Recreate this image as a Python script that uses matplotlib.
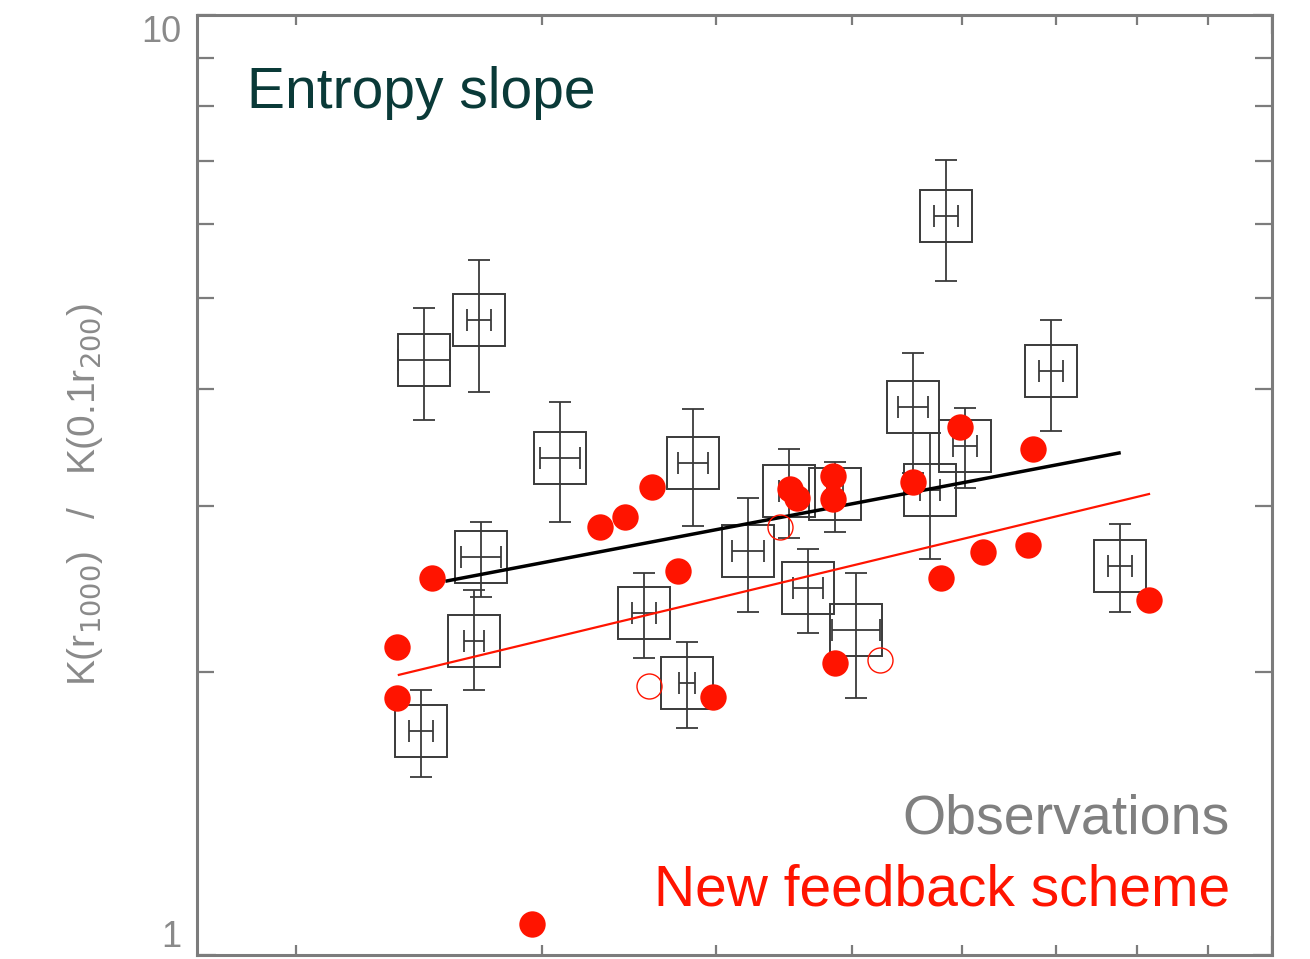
import matplotlib
matplotlib.use('Agg')
import matplotlib.pyplot as plt
import numpy as np

# observations (open squares with x/y error bars)
obs_x = [2.471, 2.706, 3.092, 2.715, 2.684, 2.459, 3.552, 3.814, 3.850, 4.215,
         4.510, 4.865, 4.653, 5.036, 5.842, 5.533, 5.691, 6.029, 6.946, 7.783]
obs_xlo = [2.368, 2.652, 2.991, 2.627, 2.639, 2.411, 3.482, 3.763, 3.757, 4.106,
           4.436, 4.802, 4.539, 4.841, 5.728, 5.398, 5.597, 5.910, 6.810, 7.630]
obs_xhi = [2.579, 2.760, 3.196, 2.805, 2.728, 2.508, 3.622, 3.864, 3.947, 4.328,
           4.585, 4.929, 4.770, 5.240, 5.958, 5.672, 5.786, 6.148, 7.085, 7.939]
obs_y = [4.295, 4.738, 3.379, 2.651, 2.158, 1.731, 2.311, 1.947, 3.338, 2.691,
         3.116, 3.093, 2.458, 2.217, 6.112, 3.828, 3.124, 3.479, 4.181, 2.593]
obs_ylo = [3.709, 3.972, 2.888, 2.404, 1.914, 1.547, 2.070, 1.744, 2.860, 2.317,
           2.777, 2.818, 2.201, 1.877, 5.212, 3.257, 2.638, 3.139, 3.610, 2.317]
obs_yhi = [4.879, 5.488, 3.876, 2.888, 2.445, 1.914, 2.550, 2.153, 3.810, 3.063,
           3.454, 3.345, 2.704, 2.550, 7.012, 4.369, 3.592, 3.819, 4.738, 2.874]

# simulated clusters, new feedback scheme (filled)
sim_x = [2.504, 2.364, 2.364, 2.953, 3.303, 3.442, 3.599, 3.757, 3.980, 4.517, 4.570,
         4.850, 4.850, 4.865, 5.533, 5.794, 5.979, 6.209, 6.687, 6.743, 8.165]
sim_y = [2.518, 2.126, 1.877, 1.079, 2.853, 2.924, 3.147, 2.562, 1.882, 3.131, 3.063,
         3.233, 3.055, 2.045, 3.185, 2.518, 3.646, 2.684, 2.731, 3.454, 2.386]

# simulated clusters (open)
sim_open_x = [3.581, 4.443, 5.240]
sim_open_y = [1.933, 2.853, 2.060]

# fit lines (end points)
fit_obs_x = [2.567, 7.771]
fit_obs_y = [2.500, 3.420]
fit_sim_x = [2.371, 8.165]
fit_sim_y = [1.986, 3.093]

grey = '#7c7c7c'
red = '#ff1400'

fig = plt.figure(figsize=(13.1, 9.59), dpi=100)
ax = fig.add_axes([0.1504, 0.0042, 0.8206, 0.9802])
ax.set_xscale('log')
ax.set_yscale('log')
ax.set_xlim(1.7, 10)
ax.set_ylim(1, 10)

obs_x = np.array(obs_x); obs_y = np.array(obs_y)
xerr = [obs_x - np.array(obs_xlo), np.array(obs_xhi) - obs_x]
yerr = [obs_y - np.array(obs_ylo), np.array(obs_yhi) - obs_y]
ax.errorbar(obs_x, obs_y, xerr=xerr, yerr=yerr, fmt='none', ecolor='#3a3a3a',
            elinewidth=1.3, capsize=8, capthick=1.3, zorder=2)
ax.plot(obs_x, obs_y, ls='none', marker='s', ms=37.5, mfc='none', mec='#3a3a3a',
        mew=1.4, zorder=2)

ax.plot(fit_obs_x, fit_obs_y, color='black', lw=2.5, zorder=3)
ax.plot(fit_sim_x, fit_sim_y, color=red, lw=1.6, zorder=3)

ax.plot(sim_x, sim_y, ls='none', marker='o', ms=19, mfc=red, mec='none', zorder=4)
ax.plot(sim_open_x, sim_open_y, ls='none', marker='o', ms=18, mfc='none', mec=red,
        mew=1.0, zorder=4)

for s in ax.spines.values():
    s.set_color(grey)
    s.set_linewidth(2.2)

ax.tick_params(which='both', direction='in', top=True, right=True, color=grey,
               width=1.6)
ax.tick_params(which='major', length=14)
ax.tick_params(which='minor', length=7)
ax.tick_params(axis='y', which='minor', length=12)
ax.tick_params(axis='x', which='both', labelbottom=False)
ax.set_yticks([1, 10])
ax.set_yticklabels(['1', '10'])
ax.yaxis.set_minor_formatter(matplotlib.ticker.NullFormatter())
ax.tick_params(axis='y', which='major', labelsize=26, labelcolor='#8a8a8a', pad=11)
labs = ax.get_yticklabels()
labs[0].set_va('bottom')
labs[1].set_va('top')
for l in labs:
    l.set_fontfamily('Liberation Sans')

fig.text(85 / 1310, 1 - 495 / 959, r'K(r$_{1000}$)   /   K(0.1r$_{200}$)', rotation=90,
         ha='center', va='center', fontsize=28, color='#8a8a8a', family='Liberation Sans')

fig.text(247 / 1310, 1 - 108 / 959, 'Entropy slope', fontsize=41, color='#0a3a38',
         ha='left', va='baseline', family='Liberation Sans')
fig.text(1230 / 1310, 1 - 833 / 959, 'Observations', fontsize=40, color='#808080',
         ha='right', va='baseline', family='Liberation Sans')
fig.text(1230 / 1310, 1 - 905 / 959, 'New feedback scheme', fontsize=41, color=red,
         ha='right', va='baseline', family='Liberation Sans')

fig.savefig('out.png', dpi=100)
